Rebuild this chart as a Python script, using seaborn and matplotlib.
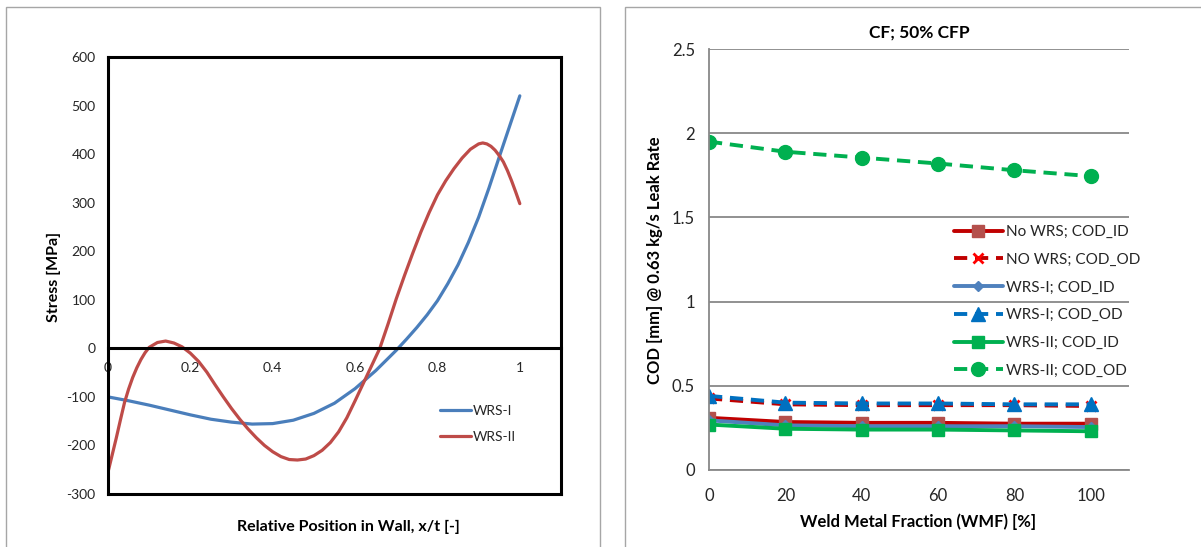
import matplotlib
matplotlib.use("Agg")
import matplotlib.pyplot as plt
from matplotlib.patches import Rectangle
from matplotlib.lines import Line2D
import pandas as pd
import seaborn as sns

# ---------------- Through-wall weld residual stress profiles ----------------
wrs1_x = [0.00, 0.05, 0.10, 0.15, 0.20, 0.25, 0.30, 0.35, 0.40, 0.45, 0.50,
          0.55, 0.60, 0.65, 0.70, 0.725, 0.75, 0.775, 0.80, 0.825, 0.85,
          0.875, 0.90, 0.925, 0.95, 0.975, 1.00]
wrs1_stress = [-100, -108, -117, -127, -137, -146, -152, -156, -155, -148, -134,
               -113, -83, -46, -4, 19, 43, 69, 98, 133, 172,
               218, 270, 330, 394, 457, 520]

wrs2_x = [0.00, 0.01, 0.02, 0.03, 0.04, 0.05, 0.06, 0.07, 0.08, 0.09, 0.10,
          0.12, 0.14, 0.16, 0.18, 0.20, 0.22, 0.24, 0.26, 0.28, 0.30,
          0.32, 0.34, 0.36, 0.38, 0.40, 0.42, 0.44, 0.46, 0.48, 0.50,
          0.52, 0.54, 0.56, 0.58, 0.60, 0.62, 0.64, 0.66, 0.68, 0.70,
          0.72, 0.74, 0.76, 0.78, 0.80, 0.82, 0.84, 0.86, 0.88, 0.90,
          0.91, 0.92, 0.93, 0.94, 0.95, 0.96, 0.97, 0.98, 0.99, 1.00]
wrs2_stress = [-255, -220, -185, -148, -112, -84, -60, -40, -23, -9, 2,
               12, 15, 11, 3, -10, -27, -49, -75, -100, -124,
               -146, -166, -184, -200, -213, -223, -229, -230, -228, -221,
               -210, -194, -172, -143, -108, -72, -36, 0, 50, 102,
               150, 196, 240, 280, 316, 345, 370, 392, 410, 421,
               423, 421, 416, 408, 397, 384, 366, 345, 322, 298]

# ---------------- COD versus weld metal fraction ----------------
wmf = [0, 20, 40, 60, 80, 100]
nowrs_cod_id = [0.31, 0.285, 0.28, 0.28, 0.275, 0.275]
nowrs_cod_od = [0.425, 0.39, 0.385, 0.385, 0.385, 0.38]
wrs1_cod_id = [0.295, 0.265, 0.26, 0.26, 0.26, 0.255]
wrs1_cod_od = [0.44, 0.40, 0.395, 0.395, 0.39, 0.39]
wrs2_cod_id = [0.27, 0.245, 0.24, 0.24, 0.235, 0.23]
wrs2_cod_od = [1.95, 1.89, 1.855, 1.82, 1.78, 1.745]

cod_labels = ["No WRS; COD_ID", "NO WRS; COD_OD", "WRS-I; COD_ID",
              "WRS-I; COD_OD", "WRS-II; COD_ID", "WRS-II; COD_OD"]

sns.set_theme(style="white")
plt.rcParams["font.family"] = ["Lato", "DejaVu Sans"]
plt.rcParams["axes.unicode_minus"] = False
plt.rcParams["text.color"] = "#262626"
plt.rcParams["axes.labelcolor"] = "#000000"

W, H = 1201, 547
fig = plt.figure(figsize=(W / 100, H / 100), dpi=100)
fig.patch.set_facecolor("white")


def fx(px):
    return px / W


def fy(py):
    return 1 - py / H


# panel frames
fig.add_artist(Rectangle((fx(6), fy(H + 20)), fx(600 - 6), fy(7) - fy(H + 20),
                         transform=fig.transFigure, fill=False,
                         edgecolor="#A6A6A6", linewidth=1.0))
fig.add_artist(Rectangle((fx(625), fy(H + 20)), fx(W + 20 - 625), fy(7) - fy(H + 20),
                         transform=fig.transFigure, fill=False,
                         edgecolor="#A6A6A6", linewidth=1.0))

# ---------------- left panel ----------------
ax1 = fig.add_axes([fx(108), fy(494), fx(561 - 108), fy(57) - fy(494)])
df1 = pd.DataFrame({"x": wrs1_x, "s": wrs1_stress})
df2 = pd.DataFrame({"x": wrs2_x, "s": wrs2_stress})
sns.lineplot(data=df1, x="x", y="s", ax=ax1, color="#4A7EBB", linewidth=2.3,
             estimator=None, sort=False, label="WRS-I")
sns.lineplot(data=df2, x="x", y="s", ax=ax1, color="#BE4B48", linewidth=2.3,
             estimator=None, sort=False, label="WRS-II")
ax1.set_xlim(0, 1.1)
ax1.set_ylim(-300, 600)
ax1.set_yticks(range(-300, 601, 100))
ax1.set_xticks([0, 0.2, 0.4, 0.6, 0.8, 1.0])
ax1.set_xticklabels(["0", "0.2", "0.4", "0.6", "0.8", "1"])
for sp in ax1.spines.values():
    sp.set_color("black")
    sp.set_linewidth(2.2)
    sp.set_visible(True)
ax1.spines["bottom"].set_position(("data", 0))
ax1.add_line(Line2D([0, 1], [0, 0], transform=ax1.transAxes, color="black",
                    linewidth=2.2, clip_on=False, solid_capstyle="projecting"))
ax1.tick_params(axis="both", which="major", direction="out", length=4, width=2,
                color="black", labelsize=10, labelcolor="#262626")
ax1.tick_params(axis="y", pad=5)
ax1.tick_params(axis="x", pad=6)
ax1.set_xlabel("")
ax1.set_ylabel("")
fig.text(fx(348), fy(527), "Relative Position in Wall, x/t [-]", ha="center",
         va="center", fontsize=11.5, fontweight="bold", color="black")
fig.text(fx(54), fy(277), "Stress [MPa]", ha="center", va="center",
         rotation=90, fontsize=11.5, fontweight="bold", color="black")
leg1 = ax1.legend(loc="upper left", bbox_to_anchor=(fx(440), fy(405)),
                  bbox_transform=fig.transFigure, frameon=False, fontsize=10,
                  handlelength=2.2, handletextpad=0.15, labelspacing=1.0,
                  borderaxespad=0, borderpad=0)
for t in leg1.get_texts():
    t.set_color("#262626")

# ---------------- right panel ----------------
ax2 = fig.add_axes([fx(709), fy(470), fx(1129 - 709), fy(49) - fy(470)])
dash = (0, (3.4, 2.0))
series = [
    (nowrs_cod_id, "#C00000", "-", "s", 9, "#B4504C", "#B4504C", 1.0),
    (nowrs_cod_od, "#C00000", dash, "x", 7, "#FF0000", "#FF0000", 2.0),
    (wrs1_cod_id, "#4F81BD", "-", "D", 5, "#4F81BD", "#4F81BD", 1.0),
    (wrs1_cod_od, "#0070C0", dash, "^", 10, "#0070C0", "#0070C0", 1.0),
    (wrs2_cod_id, "#00B050", "-", "s", 9, "#00B050", "#00B050", 1.0),
    (wrs2_cod_od, "#00B050", dash, "o", 10, "#00B050", "#00B050", 1.0),
]
for (vals, col, ls, mk, ms, mfc, mec, mew), lab in zip(series, cod_labels):
    d = pd.DataFrame({"wmf": wmf, "cod": vals})
    sns.lineplot(data=d, x="wmf", y="cod", ax=ax2, color=col, linestyle=ls,
                 linewidth=2.8, marker=mk, markersize=ms, markerfacecolor=mfc,
                 markeredgecolor=mec, markeredgewidth=mew, estimator=None,
                 sort=False, label=lab)
ax2.set_xlim(0, 110)
ax2.set_ylim(0, 2.5)
ax2.set_xticks(wmf)
ax2.set_yticks([0, 0.5, 1.0, 1.5, 2.0, 2.5])
ax2.set_yticklabels(["0", "0.5", "1", "1.5", "2", "2.5"])
ax2.grid(axis="y", color="#888888", linewidth=1.3)
ax2.set_axisbelow(True)
for side in ["top", "right"]:
    ax2.spines[side].set_visible(False)
for side in ["left", "bottom"]:
    ax2.spines[side].set_color("#888888")
    ax2.spines[side].set_linewidth(1.3)
ax2.tick_params(axis="both", which="major", direction="out", length=5, width=1.3,
                color="#888888", labelsize=12, labelcolor="#262626", pad=5)
ax2.tick_params(axis="x", pad=8)
ax2.set_xlabel("")
ax2.set_ylabel("")
ax2.set_title("CF; 50% CFP", fontsize=12.5, fontweight="bold", color="black", pad=8)
fig.text(fx(918), fy(522), "Weld Metal Fraction (WMF) [%]", ha="center",
         va="center", fontsize=12, fontweight="bold", color="black")
fig.text(fx(655), fy(260), "COD [mm] @ 0.63 kg/s Leak Rate", ha="center",
         va="center", rotation=90, fontsize=12, fontweight="bold", color="black")
leg2 = ax2.legend(loc="upper left", bbox_to_anchor=(fx(954), fy(225)),
                  bbox_transform=fig.transFigure, frameon=False, fontsize=11,
                  handlelength=3.2, handletextpad=0.2, labelspacing=0.9,
                  borderaxespad=0, borderpad=0)
for t in leg2.get_texts():
    t.set_color("#262626")

fig.savefig("out.png", dpi=100, facecolor="white")
